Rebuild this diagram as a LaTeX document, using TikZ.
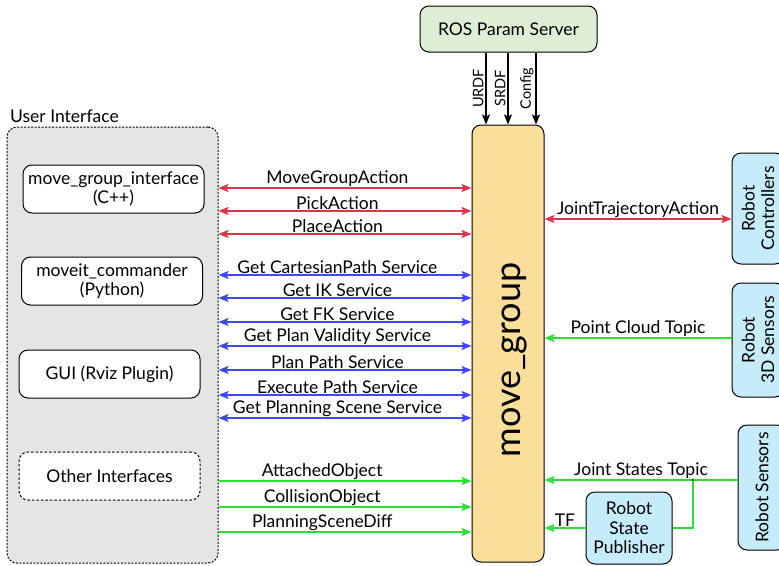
\documentclass[tikz,border=0pt]{standalone}
\usepackage{fontspec}
\setmainfont{Lato}
\usetikzlibrary{arrows.meta}
\definecolor{arrred}{RGB}{222,52,72}
\definecolor{arrblue}{RGB}{64,72,255}
\definecolor{arrgreen}{RGB}{40,225,50}
\definecolor{paramgreen}{RGB}{221,238,212}
\definecolor{mgorange}{RGB}{252,222,155}
\definecolor{robotblue}{RGB}{198,236,250}
\definecolor{uigray}{RGB}{229,229,229}
\tikzset{
  >={Stealth[length=10pt, width=8pt, inset=2pt]},
  txt/.style={font=\fontsize{17.5}{19.5}\selectfont},
  box/.style={draw, line width=1pt, rounded corners=9pt, align=center, txt, inner sep=0pt},
  iface/.style={box, fill=white, minimum width=181pt, minimum height=48pt},
  robot/.style={box, fill=robotblue, rotate=90},
  link/.style={line width=1.6pt},
  both/.style={link, <->},
  into/.style={link, ->},
  lab/.style={above, txt, inner sep=1pt}
}
\begin{document}
\begin{tikzpicture}[x=1pt, y=-1pt]
      \useasboundingbox (0,0) rectangle (779,565);
      \clip (0,0) rectangle (779,565);
      \node[box, fill=paramgreen, minimum width=177pt, minimum height=46pt] (ps) at (508.5,29) {ROS Param Server};
      \node[box, fill=mgorange, minimum width=72pt, minimum height=437pt] (mg) at (508,343.5) {};
      \node[font=\fontsize{36}{40}\selectfont, rotate=90] (mgt) at (514,360) {move\_group};
      \node[draw, line width=1pt, dash pattern=on 2pt off 1.5pt, rounded corners=10pt, fill=uigray, minimum width=211pt, minimum height=436pt] (ui) at (112.5,345) {};
      \node[txt, anchor=base west, inner sep=0pt] (uit) at (10,122) {User Interface};
      \node[iface] (mgi) at (113.5,189) {move\_group\_interface\\(C++)};
      \node[iface] (mc) at (112,281) {moveit\_commander\\(Python)};
      \node[iface] (gui) at (109.5,374) {GUI (Rviz Plugin)};
      \node[iface, dash pattern=on 2.5pt off 2pt] (oi) at (109.5,476) {Other Interfaces};
      \node[robot, minimum width=111pt, minimum height=52pt] (rc) at (758,208.5) {Robot\\Controllers};
      \node[robot, minimum width=114pt, minimum height=52pt] (r3d) at (758,340) {Robot\\3D Sensors};
      \node[robot, minimum width=125pt, minimum height=48pt] (rs) at (762,487.5) {Robot Sensors};
      \node[box, fill=robotblue, minimum width=86pt, minimum height=72pt] (rsp) at (629,528) {Robot\\State\\Publisher};
      \foreach \x/\lab in {486/URDF, 508/SRDF, 536/Config}
      \draw[line width=1.2pt, ->] (ps.south -| \x,0) -- node[midway, rotate=90, anchor=south, inner sep=2pt, font=\fontsize{14.5}{16}\selectfont] {\lab} (mg.north -| \x,0);
      \foreach \y/\lab in {188/MoveGroupAction, 211/PickAction, 234/PlaceAction}
      \draw[both, arrred] (ui.east |- 0,\y) -- node[lab, pos=0.47, black] {\lab} (mg.west |- 0,\y);
      \foreach \y/\lab in {275/Get CartesianPath Service, 298/Get IK Service, 322/Get FK Service, 346/Get Plan Validity Service, 370/Plan Path Service, 395/Execute Path Service, 418/Get Planning Scene Service}
      \draw[both, arrblue] (ui.east |- 0,\y) -- node[lab, pos=0.47, black] {\lab} (mg.west |- 0,\y);
      \foreach \y/\lab in {481/AttachedObject, 507/CollisionObject, 532/PlanningSceneDiff}
      \draw[into, arrgreen] (ui.east |- 0,\y) -- node[lab, pos=0.41, black] {\lab} (mg.west |- 0,\y);
      \draw[both, arrred] (rc.north |- 0,219) -- node[lab, black] {JointTrajectoryAction} (mg.east |- 0,219);
      \draw[into, arrgreen] (r3d.north |- 0,338) -- node[lab, black] {Point Cloud Topic} (mg.east |- 0,338);
      \draw[into, arrgreen] (rs.north |- 0,480) -- node[lab, black] {Joint States Topic} (mg.east |- 0,480);
      \coordinate (jn) at (693,480);
      \draw[link, arrgreen] (jn) |- (rsp.east);
      \fill[green!45!black] (jn) circle (1.6pt);
      \draw[into, arrgreen] (rsp.west) -- node[lab, black] {TF} (mg.east |- rsp.west);
    \end{tikzpicture}
\end{document}
